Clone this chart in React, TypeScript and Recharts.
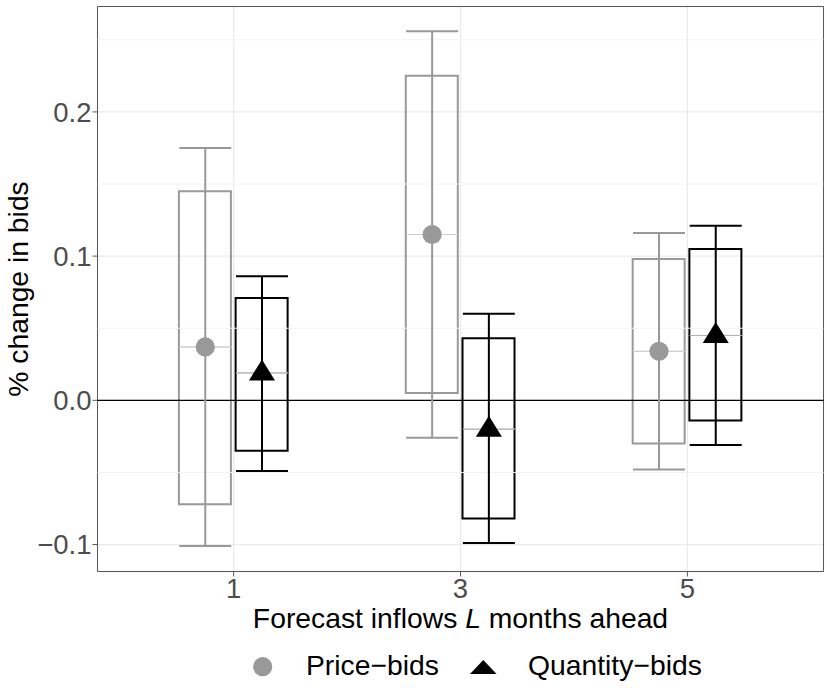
import React from "react";
import {
  ComposedChart,
  Bar,
  Cell,
  Scatter,
  ErrorBar,
  XAxis,
  YAxis,
  CartesianGrid,
  ReferenceLine,
  ReferenceArea,
  Legend,
} from "recharts";

const horizons = ["1", "3", "5"];

// Price-bids: whisker ends, box ends and point estimate per horizon
const priceWhiskerLow = [-0.101, -0.026, -0.048];
const priceBoxLow = [-0.072, 0.005, -0.03];
const priceEstimate = [0.037, 0.115, 0.034];
const priceBoxHigh = [0.145, 0.225, 0.098];
const priceWhiskerHigh = [0.175, 0.256, 0.116];

// Quantity-bids
const quantityWhiskerLow = [-0.049, -0.099, -0.031];
const quantityBoxLow = [-0.035, -0.082, -0.014];
const quantityEstimate = [0.019, -0.02, 0.045];
const quantityBoxHigh = [0.071, 0.043, 0.105];
const quantityWhiskerHigh = [0.086, 0.06, 0.121];

const yTicks = [-0.1, 0, 0.1, 0.2];
const yMinorTicks = [-0.05, 0.05, 0.15, 0.25];

const FONT = "'Liberation Sans', Arial, Helvetica, sans-serif";
const PRICE = "#999999";
const QUANTITY = "#000000";
const BORDER = "#595959";
const DODGE = 0.125;
const X_DOMAIN: [number, number] = [-0.6, 2.6];
const Y_DOMAIN: [number, number] = [-0.1187, 0.2731];

const makeRows = (
  series: string,
  shift: number,
  wl: number[],
  bl: number[],
  est: number[],
  bh: number[],
  wh: number[]
) =>
  horizons.map((h, i) => ({
    horizon: h,
    series,
    x: i + shift,
    box: [bl[i], bh[i]],
    est: est[i],
    whisker: [est[i] - wl[i], wh[i] - est[i]],
    middle: [0, 0],
  }));

const priceRows = makeRows("price", -DODGE, priceWhiskerLow, priceBoxLow, priceEstimate, priceBoxHigh, priceWhiskerHigh);
const quantityRows = makeRows(
  "quantity",
  DODGE,
  quantityWhiskerLow,
  quantityBoxLow,
  quantityEstimate,
  quantityBoxHigh,
  quantityWhiskerHigh
);
const boxRows = [...priceRows, ...quantityRows];

const fmtY = (v: number) => (v < 0 ? "\u2212" : "") + Math.abs(v).toFixed(1);

const XTitle = (props: any) => {
  const { x, y, width } = props.viewBox;
  return (
    <text x={x + width / 2} y={y + 56.5} textAnchor="middle" fontSize={28.3} fill="#000" fontFamily={FONT}>
      <tspan>{"Forecast inflows "}</tspan>
      <tspan fontStyle="italic">L</tspan>
      <tspan>{" months ahead"}</tspan>
    </text>
  );
};

const YTitle = (props: any) => {
  const { y, height } = props.viewBox;
  const cx = 27.5;
  const cy = y + height / 2;
  return (
    <text
      x={cx}
      y={cy}
      transform={`rotate(-90, ${cx}, ${cy})`}
      textAnchor="middle"
      fontSize={28.3}
      fill="#000"
      fontFamily={FONT}
    >
      % change in bids
    </text>
  );
};

const NoShape = () => <g />;

const Dot = (props: any) => <circle cx={props.cx} cy={props.cy} r={9.6} fill={PRICE} />;

const Triangle = (props: any) => {
  const { cx, cy } = props;
  return <polygon points={`${cx},${cy - 13.5} ${cx - 13},${cy + 7.5} ${cx + 13},${cy + 7.5}`} fill={QUANTITY} />;
};

const LegendContent = () => (
  <svg width={830} height={60} style={{ display: "block" }}>
    <circle cx={262.7} cy={34.7} r={9.6} fill={PRICE} />
    <text x={306} y={43} fontSize={28.3} fontFamily={FONT} fill="#000">
      Price{"\u2212"}bids
    </text>
    <polygon points="483.3,28 470,42 496.6,42" fill={QUANTITY} />
    <text x={528} y={43} fontSize={28.3} fontFamily={FONT} fill="#000">
      Quantity{"\u2212"}bids
    </text>
  </svg>
);

export default function App() {
  return (
    <div style={{ position: "absolute", left: 0, top: 0, background: "#fff" }}>
      <ComposedChart
        width={830}
        height={692}
        data={boxRows}
        margin={{ top: 6.5, right: 6.5, bottom: 0, left: 0 }}
        style={{ fontFamily: FONT }}
      >
        <CartesianGrid stroke="#EBEBEB" strokeWidth={1.3} />
        {yMinorTicks.map((v) => (
          <ReferenceLine key={v} y={v} stroke="#F2F2F2" strokeWidth={1} />
        ))}
        <XAxis
          type="number"
          dataKey="x"
          domain={X_DOMAIN}
          ticks={[0, 1, 2]}
          tickFormatter={(i: number) => horizons[i]}
          allowDataOverflow
          height={60.5}
          tickSize={5}
          tickMargin={2}
          axisLine={false}
          tickLine={{ stroke: BORDER }}
          tick={{ fill: "#4D4D4D", fontSize: 27.5 }}
          label={<XTitle />}
        />
        <YAxis
          type="number"
          domain={Y_DOMAIN}
          ticks={yTicks}
          tickFormatter={fmtY}
          allowDataOverflow
          width={97.5}
          tickSize={5}
          tickMargin={1}
          axisLine={false}
          tickLine={{ stroke: BORDER }}
          tick={{ fill: "#4D4D4D", fontSize: 27.5 }}
          label={<YTitle />}
        />
        <ReferenceLine y={0} stroke="#000" strokeWidth={1.3} />
        <Bar dataKey="box" barSize={52} fill="none" strokeWidth={2} isAnimationActive={false}>
          {boxRows.map((r) => (
            <Cell key={`${r.series}-${r.horizon}`} stroke={r.series === "price" ? PRICE : QUANTITY} fill="none" />
          ))}
        </Bar>
        <Scatter data={priceRows} dataKey="est" shape={<NoShape />} isAnimationActive={false}>
          <ErrorBar dataKey="middle" direction="y" width={26} stroke="#CFCFCF" strokeWidth={1} />
        </Scatter>
        <Scatter data={quantityRows} dataKey="est" shape={<NoShape />} isAnimationActive={false}>
          <ErrorBar dataKey="middle" direction="y" width={26} stroke="#B5B5B5" strokeWidth={1} />
        </Scatter>
        <Scatter data={priceRows} dataKey="est" shape={<Dot />} isAnimationActive={false}>
          <ErrorBar dataKey="whisker" direction="y" width={26} stroke={PRICE} strokeWidth={2} />
        </Scatter>
        <Scatter data={quantityRows} dataKey="est" shape={<Triangle />} isAnimationActive={false}>
          <ErrorBar dataKey="whisker" direction="y" width={26} stroke={QUANTITY} strokeWidth={2} />
        </Scatter>
        <ReferenceArea
          x1={X_DOMAIN[0]}
          x2={X_DOMAIN[1]}
          y1={Y_DOMAIN[0]}
          y2={Y_DOMAIN[1]}
          fill="none"
          stroke={BORDER}
          strokeWidth={1}
        />
        <Legend
          verticalAlign="bottom"
          height={60}
          content={<LegendContent />}
          wrapperStyle={{ left: 0, bottom: 0, width: 830, height: 60 }}
        />
      </ComposedChart>
    </div>
  );
}
